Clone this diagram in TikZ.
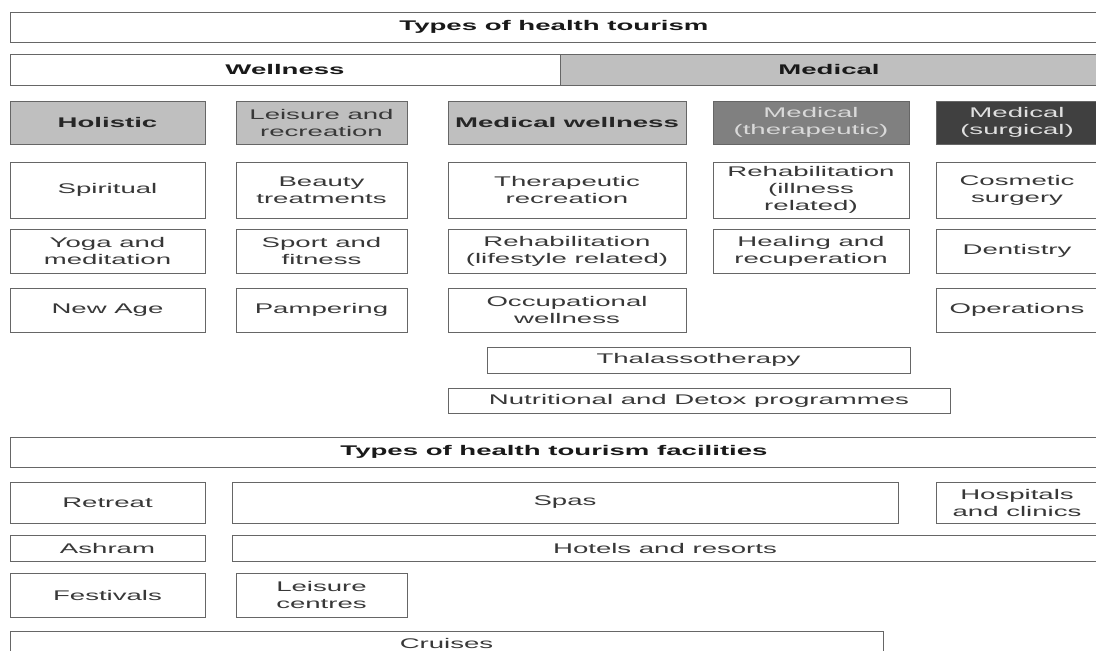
\documentclass[tikz,border=0pt]{standalone}
\usepackage{fontspec}
\setmainfont{Liberation Sans}[FakeStretch=1.97]
\newcommand\bx[7]{\node[#6, minimum width={(#4-#2)*1pt}, minimum height={(#5-#3)*1pt}] (#1) at ({(#2+#4)/2},{(#3+#5)/2}) {#7};}
\begin{document}
\begin{tikzpicture}[x=1pt,y=-1pt,
  base/.style={draw=black!60, line width=1pt, inner sep=0pt, align=center, font={\fontsize{14}{17}\selectfont}, text=black!78},
  plain/.style={base, fill=white},
  head/.style={base, fill=white, font={\fontsize{14}{17}\selectfont\bfseries}, text=black!90},
  lgray/.style={base, fill=black!25},
  lgrayb/.style={lgray, font={\fontsize{14}{17}\selectfont\bfseries}, text=black!85},
  mgray/.style={base, fill=black!50, text=black!15},
  dgray/.style={base, fill=black!75, text=black!12},
]
\useasboundingbox (0,0) rectangle (1096,651);
% top headers
\bx{types}{10}{12}{1098}{42}{head}{Types of health tourism}
\bx{wellness}{10}{54}{560}{85}{head}{Wellness}
\bx{medical}{560}{54}{1098}{85}{head, fill=black!25}{Medical}
% category row
\bx{holistic}{10}{101}{205}{144}{lgrayb}{Holistic}
\bx{leisure}{236}{101}{407}{144}{lgray}{Leisure and\\recreation}
\bx{medwell}{448}{101}{686}{144}{lgrayb}{Medical wellness}
\bx{medther}{713}{101}{909}{144}{mgray}{Medical\\(therapeutic)}
\bx{medsurg}{936}{101}{1098}{144}{dgray}{Medical\\(surgical)}
% row B
\bx{spiritual}{10}{162}{205}{218}{plain}{Spiritual}
\bx{beauty}{236}{162}{407}{218}{plain}{Beauty\\treatments}
\bx{therrec}{448}{162}{686}{218}{plain}{Therapeutic\\recreation}
\bx{rehabill}{713}{162}{909}{218}{plain}{Rehabilitation\\(illness\\related)}
\bx{cosmetic}{936}{162}{1098}{218}{plain}{Cosmetic\\surgery}
% row C
\bx{yoga}{10}{229}{205}{273}{plain}{Yoga and\\meditation}
\bx{sport}{236}{229}{407}{273}{plain}{Sport and\\fitness}
\bx{rehablife}{448}{229}{686}{273}{plain}{Rehabilitation\\(lifestyle related)}
\bx{healing}{713}{229}{909}{273}{plain}{Healing and\\recuperation}
\bx{dentistry}{936}{229}{1098}{273}{plain}{Dentistry}
% row D
\bx{newage}{10}{288}{205}{332}{plain}{New Age}
\bx{pampering}{236}{288}{407}{332}{plain}{Pampering}
\bx{occup}{448}{288}{686}{332}{plain}{Occupational\\wellness}
\bx{operations}{936}{288}{1098}{332}{plain}{Operations}
% spanning
\bx{thalasso}{487}{347}{910}{373}{plain}{Thalassotherapy}
\bx{nutri}{448}{388}{950}{413}{plain}{Nutritional and Detox programmes}
% facilities
\bx{facilities}{10}{437}{1098}{467}{head}{Types of health tourism facilities}
\bx{retreat}{10}{482}{205}{523}{plain}{Retreat}
\bx{spas}{232}{482}{898}{523}{plain}{Spas}
\bx{hospitals}{936}{482}{1098}{523}{plain}{Hospitals\\and clinics}
\bx{ashram}{10}{535}{205}{561}{plain}{Ashram}
\bx{hotels}{232}{535}{1098}{561}{plain}{Hotels and resorts}
\bx{festivals}{10}{573}{205}{617}{plain}{Festivals}
\bx{leiscent}{236}{573}{407}{617}{plain}{Leisure\\centres}
\bx{cruises}{10}{631}{883}{655}{plain}{Cruises}
\end{tikzpicture}
\end{document}
